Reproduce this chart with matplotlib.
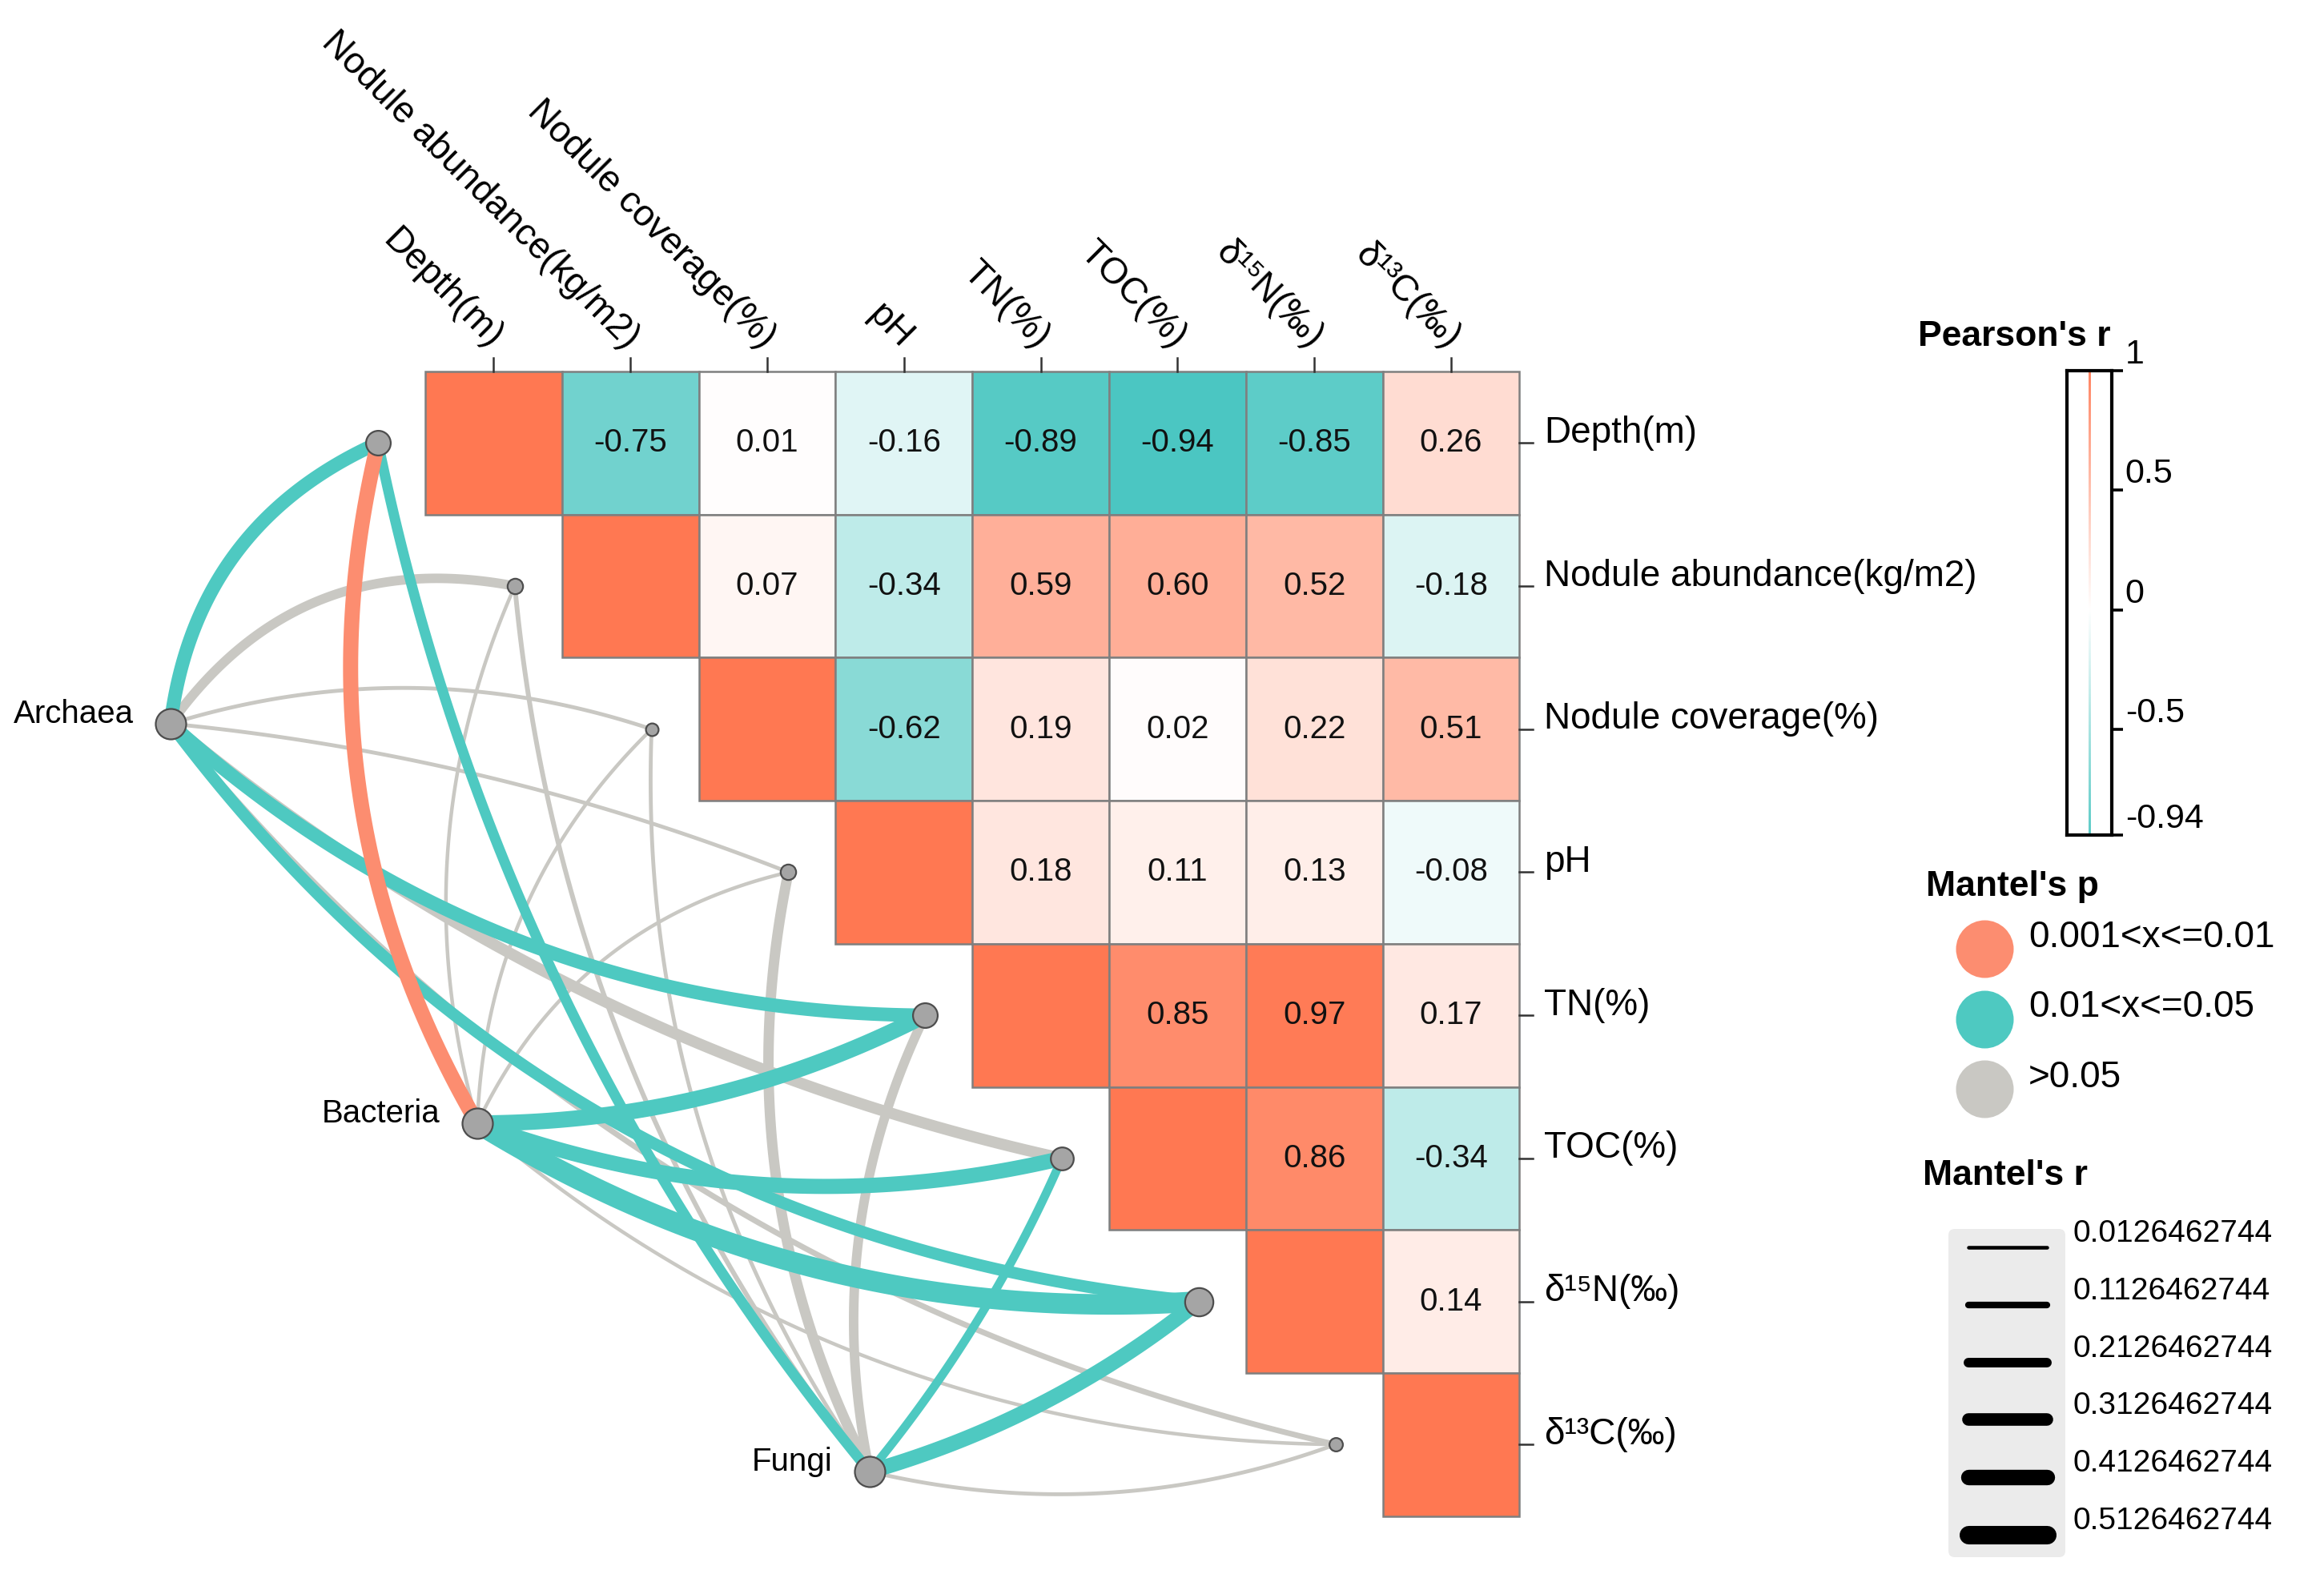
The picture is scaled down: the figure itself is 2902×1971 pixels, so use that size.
import numpy as np
import matplotlib
matplotlib.use('Agg')
import matplotlib.pyplot as plt
from matplotlib.colors import LinearSegmentedColormap, Normalize
from matplotlib.patches import Rectangle, FancyBboxPatch

plt.rcParams['font.family'] = ['Liberation Sans', 'DejaVu Sans']

# ---- data ----
env_vars = ['Depth(m)', 'Nodule abundance(kg/m2)', 'Nodule coverage(%)', 'pH',
            'TN(%)', 'TOC(%)', 'δ¹⁵N(‰)', 'δ¹³C(‰)']

# Pearson's r, upper triangle (row i starts at the diagonal)
pearson_rows = [
    [1, -0.75, 0.01, -0.16, -0.89, -0.94, -0.85, 0.26],
    [1, 0.07, -0.34, 0.59, 0.60, 0.52, -0.18],
    [1, -0.62, 0.19, 0.02, 0.22, 0.51],
    [1, 0.18, 0.11, 0.13, -0.08],
    [1, 0.85, 0.97, 0.17],
    [1, 0.86, -0.34],
    [1, 0.14],
    [1],
]

species = ['Archaea', 'Bacteria', 'Fungi']

# Mantel's r per species, same order as env_vars
mantel_r_archaea = [0.35, 0.21, 0.02, 0.02, 0.35, 0.27, 0.29, 0.08]
mantel_r_bacteria = [0.40, 0.01, 0.01, 0.01, 0.43, 0.40, 0.58, 0.01]
mantel_r_fungi = [0.24, 0.05, 0.02, 0.24, 0.21, 0.18, 0.40, 0.02]

# Mantel's p class: 0 -> 0.001<x<=0.01, 1 -> 0.01<x<=0.05, 2 -> >0.05
mantel_p_archaea = [1, 2, 2, 2, 1, 2, 1, 2]
mantel_p_bacteria = [0, 2, 2, 2, 1, 1, 1, 2]
mantel_p_fungi = [1, 2, 2, 2, 2, 1, 1, 2]

p_labels = ['0.001<x<=0.01', '0.01<x<=0.05', '>0.05']
r_breaks = [0.0126462744, 0.1126462744, 0.2126462744,
            0.3126462744, 0.4126462744, 0.5126462744]
cbar_ticks = [1, 0.5, 0, -0.5, -0.94]

# ---- style ----
W, H = 2902, 1971
X0, Y0 = 531, 464          # heatmap top-left (px)
CW, CH = 170.8, 178.7      # cell size (px)
p_colors = ['#FC8D70', '#4EC9C1', '#C9C8C3']
cmap = LinearSegmentedColormap.from_list('pr', ['#41C3BE', '#FFFFFF', '#FF7852'])
norm = Normalize(-1, 1)

# species node layout (cell units) and edge curvature
sp_pos = {'Archaea': (-1.862, 2.462), 'Bacteria': (0.381, 5.255), 'Fungi': (3.249, 7.689)}
curv = {
    'Archaea': [0.14, 0.16, 0.08, 0.035, -0.095, -0.06, -0.11, -0.085],
    'Bacteria': [0.10, 0.09, 0.10, 0.12, -0.06, -0.075, -0.08, -0.09],
    'Fungi': [0.062, 0.074, 0.084, 0.088, 0.085, -0.035, -0.05, -0.075],
}

def lw_of(r):
    return (4.1 + 37 * r) * 72 / 200.0

def curve(p0, p1, k, n=80):
    a = np.array([p0[0] * CW, p0[1] * CH])
    b = np.array([p1[0] * CW, p1[1] * CH])
    d = b - a
    L = np.hypot(*d)
    perp = np.array([d[1], -d[0]]) / L
    c = (a + b) / 2 + perp * 2 * k * L
    t = np.linspace(0, 1, n)[:, None]
    pts = (1 - t) ** 2 * a + 2 * (1 - t) * t * c + t ** 2 * b
    return pts[:, 0] / CW, pts[:, 1] / CH

fig = plt.figure(figsize=(W / 200, H / 200), dpi=200)
ax = fig.add_axes([0, 0, 1, 1])
ax.set_xlim(-X0 / CW, (W - X0) / CW)
ax.set_ylim((H - Y0) / CH, -Y0 / CH)
ax.axis('off')

n = len(env_vars)
# heatmap
for i, row in enumerate(pearson_rows):
    for k, r in enumerate(row):
        j = i + k
        ax.add_patch(Rectangle((j, i), 1, 1, facecolor=cmap(norm(r)),
                               edgecolor='#7F7F7F', lw=0.9, zorder=2))
        if j != i:
            ax.text(j + 0.5, i + 0.5, '%.2f' % r, ha='center', va='center',
                    fontsize=14.5, color='#111111', zorder=3)

# ticks and labels
tick_x = 17 / CW
tick_y = 17 / CH
for j, lab in enumerate(env_vars):
    ax.plot([j + 0.5, j + 0.5], [0, -tick_y], color='#333333', lw=0.9)
    ax.text(j + 0.5 + 0.02, -0.2, lab, rotation=-45, rotation_mode='anchor',
            ha='right', va='center', fontsize=16.5)
for i, lab in enumerate(env_vars):
    ax.plot([n, n + tick_x], [i + 0.5, i + 0.5], color='#333333', lw=0.9)
    ax.text(n + 0.18, i + 0.43, lab, ha='left', va='center', fontsize=16.5)

# network
env_pos = [(i - 0.345, i + 0.5) for i in range(n)]
r_all = {'Archaea': mantel_r_archaea, 'Bacteria': mantel_r_bacteria, 'Fungi': mantel_r_fungi}
p_all = {'Archaea': mantel_p_archaea, 'Bacteria': mantel_p_bacteria, 'Fungi': mantel_p_fungi}

for layer in [2, 1, 0]:
    for sp in species:
        for i in range(n):
            if p_all[sp][i] != layer:
                continue
            xs, ys = curve(sp_pos[sp], env_pos[i], curv[sp][i])
            ax.plot(xs, ys, color=p_colors[layer], lw=lw_of(r_all[sp][i]),
                    solid_capstyle='butt', zorder=4)

r_sum = np.sum([r_all[sp] for sp in species], axis=0)
for i in range(n):
    d = 15 + 16 * r_sum[i]
    ax.scatter(*env_pos[i], s=(d * 0.36) ** 2, color='#A5A5A5',
               edgecolor='#4D4D4D', lw=0.8, zorder=6)
for sp in species:
    x, y = sp_pos[sp]
    ax.scatter(x, y, s=(38 * 0.36) ** 2, color='#A5A5A5', edgecolor='#4D4D4D',
               lw=0.8, zorder=6)
    ax.text(x - 0.27, y - 0.067, sp, ha='right', va='center', fontsize=14.5)

# ---- legends (pixel overlay) ----
lg = fig.add_axes([0, 0, 1, 1], facecolor='none')
lg.set_xlim(0, W)
lg.set_ylim(H, 0)
lg.axis('off')

lg.text(2395, 420, "Pearson's r", fontsize=16, fontweight='bold', ha='left', va='center')
cb_top, cb_bot = 463, 1043
cax = fig.add_axes([2581 / W, 1 - cb_bot / H, 56 / W, (cb_bot - cb_top) / H])
grad = np.linspace(1, -0.94, 300)[:, None]
cax.imshow(grad, cmap=cmap, norm=norm, aspect='auto', alpha=0.9,
           extent=[0.48, 0.525, -0.94, 1])
cax.set_xlim(0, 1)
cax.set_ylim(-0.94, 1)
cax.set_xticks([])
cax.yaxis.tick_right()
cax.set_yticks(cbar_ticks)
cax.set_yticklabels(['%g' % t for t in cbar_ticks], fontsize=15.5)
for lbl in cax.get_yticklabels():
    lbl.set_va('bottom')
cax.tick_params(axis='y', length=5, width=1.3, pad=1)
for s in cax.spines.values():
    s.set_linewidth(1.5)

lg.text(2405, 1107, "Mantel's p", fontsize=16, fontweight='bold', ha='left', va='center')
for k, lab in enumerate(p_labels):
    y = 1185 + 87.5 * k
    lg.scatter(2478, y, s=(72 * 0.36) ** 2, color=p_colors[k], lw=0)
    lg.text(2533, y - 14, lab, fontsize=16.5, ha='left', va='center')

lg.text(2401, 1469, "Mantel's r", fontsize=16, fontweight='bold', ha='left', va='center')
lg.add_patch(FancyBboxPatch((2437, 1539), 138, 402,
                            boxstyle='round,pad=4,rounding_size=8',
                            facecolor='#EBEBEB', edgecolor='none'))
for k, (yy, rb) in enumerate(zip(np.linspace(1558, 1917, len(r_breaks)), r_breaks)):
    lg.plot([2458, 2556], [yy, yy], color='black', lw=lw_of(rb), solid_capstyle='round')
    lg.text(2589, yy - 17, '%.10f' % rb, fontsize=14, ha='left', va='center')

fig.savefig('out.png', dpi=200)
